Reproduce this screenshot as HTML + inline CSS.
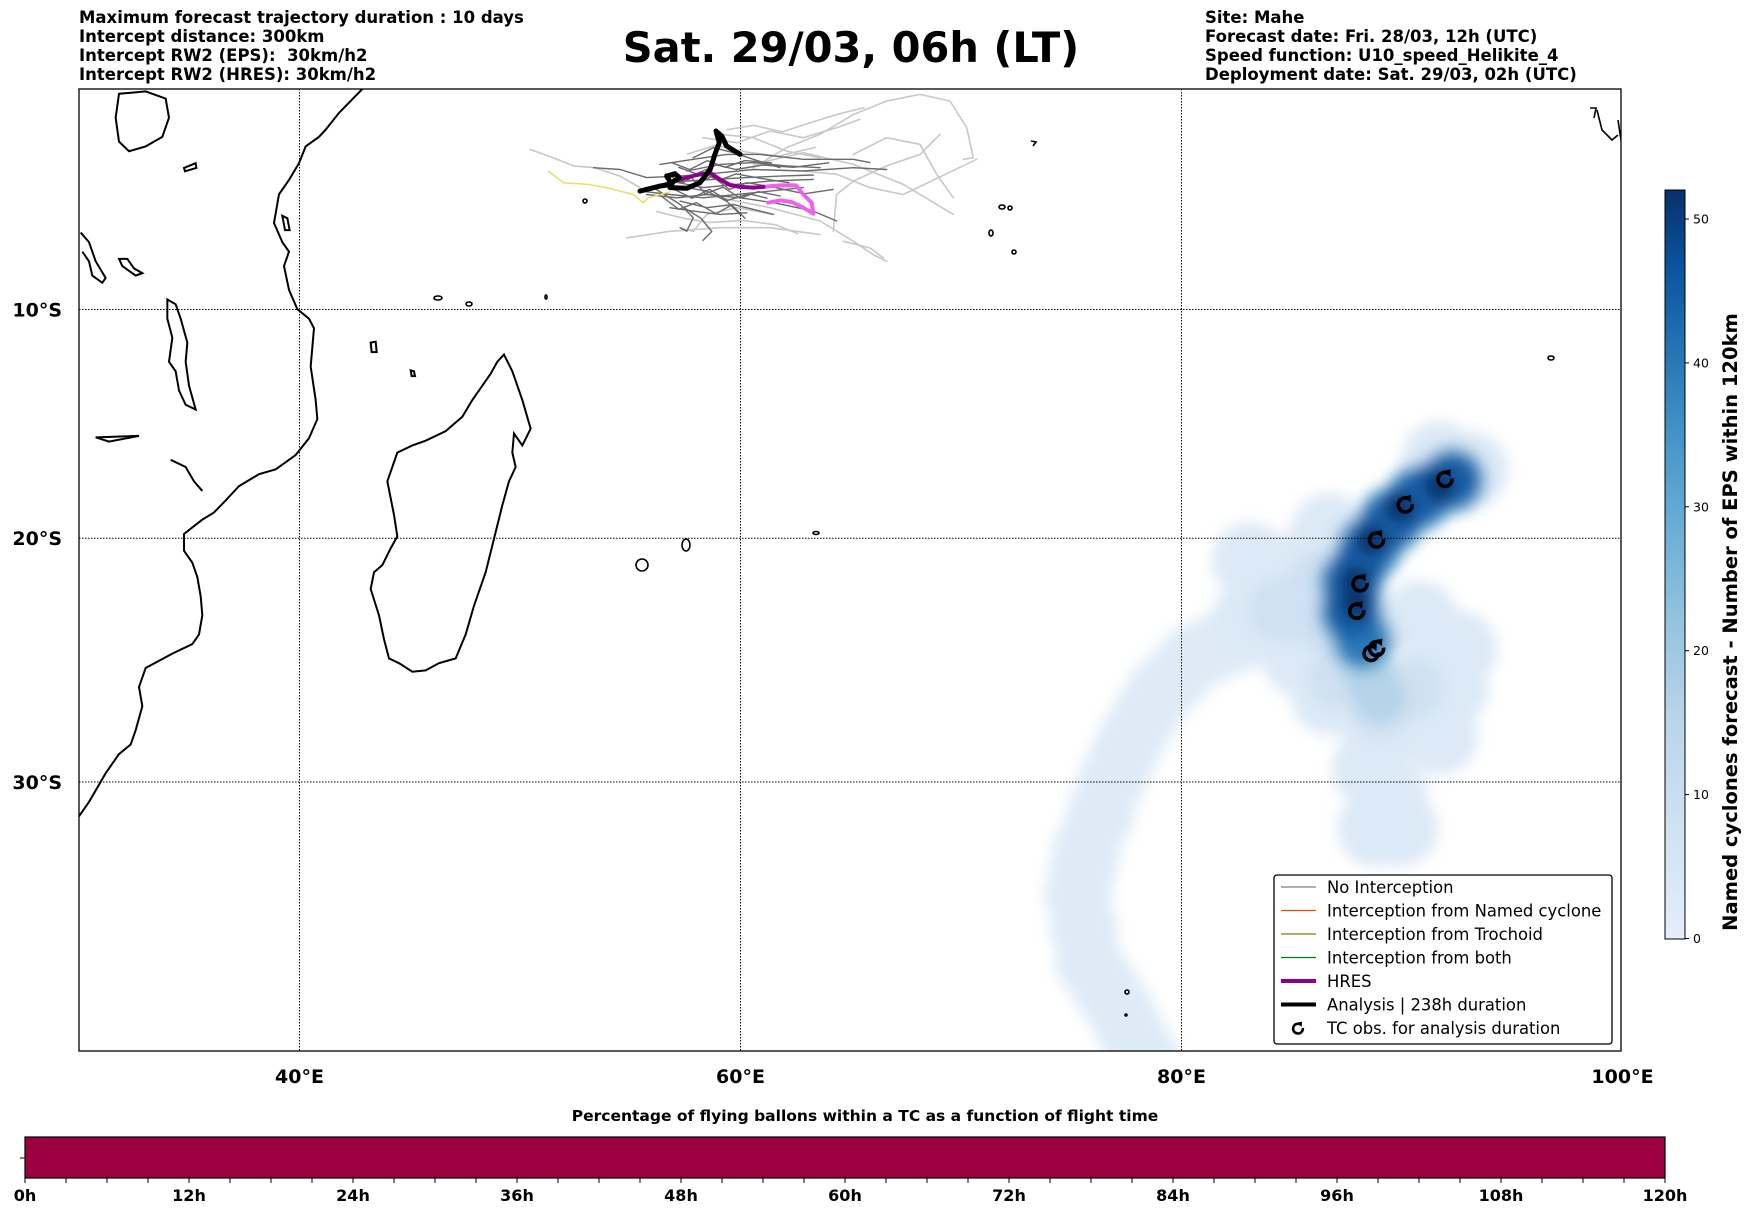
<!DOCTYPE html>
<html><head><meta charset="utf-8"><style>
html,body{margin:0;padding:0;background:#fff;}
svg{display:block;font-family:"DejaVu Sans","Liberation Sans",sans-serif;}
.hdr{font-weight:bold;font-size:16.5px;}
</style></head><body>
<svg id="root" width="1752" height="1213" viewBox="0 0 1752 1213" xmlns="http://www.w3.org/2000/svg">
<defs>
 <filter id="blur1" x="-50%" y="-50%" width="200%" height="200%"><feGaussianBlur stdDeviation="7"/></filter>
 <linearGradient id="blues" x1="0" y1="1" x2="0" y2="0">
  <stop offset="0" stop-color="#e3eef9"/><stop offset="0.15" stop-color="#d0e1f2"/>
  <stop offset="0.3" stop-color="#b7d4ea"/><stop offset="0.42" stop-color="#94c4df"/>
  <stop offset="0.55" stop-color="#6aaed6"/><stop offset="0.68" stop-color="#4292c6"/>
  <stop offset="0.8" stop-color="#2070b4"/><stop offset="0.9" stop-color="#0a539e"/>
  <stop offset="1" stop-color="#08306b"/>
 </linearGradient>
 <clipPath id="mapclip"><rect x="79" y="89" width="1542" height="962"/></clipPath>
</defs>

<g class="hdr">
 <text x="79" y="23">Maximum forecast trajectory duration : 10 days</text>
 <text x="79" y="42">Intercept distance: 300km</text>
 <text x="79" y="61" xml:space="preserve">Intercept RW2 (EPS):  30km/h2</text>
 <text x="79" y="80">Intercept RW2 (HRES): 30km/h2</text>
</g>
<text x="851" y="62" text-anchor="middle" font-weight="bold" font-size="41.5">Sat. 29/03, 06h (LT)</text>
<g class="hdr">
 <text x="1205" y="23">Site: Mahe</text>
 <text x="1205" y="42">Forecast date: Fri. 28/03, 12h (UTC)</text>
 <text x="1205" y="61">Speed function: U10_speed_Helikite_4</text>
 <text x="1205" y="80">Deployment date: Sat. 29/03, 02h (UTC)</text>
</g>

<g id="map" clip-path="url(#mapclip)">
 <g id="density" filter="url(#blur1)"></g>
 <g transform="translate(79,89) scale(0.33333,0.47847)" fill="none" stroke="#000" stroke-width="2">
  <path vector-effect="non-scaling-stroke" d="M850,0 L780,50 L740,85 L720,100 L680,120 L660,155 L630,190 L600,220 L585,280 L610,320 L630,340 L615,370 L630,420 L655,460 L690,480 L705,500 L695,580 L710,650 L715,690 L690,730 L650,765 L590,795 L540,805 L480,830 L440,860 L405,885 L370,900 L315,930 L315,965 L340,990 L355,1020 L365,1060 L370,1100 L360,1140 L340,1160 L280,1180 L200,1210 L180,1250 L190,1290 L170,1340 L155,1370 L120,1390 L80,1430 L30,1490 L0,1520"/>
  <path vector-effect="non-scaling-stroke" d="M1275,555 L1300,590 L1330,650 L1355,710 L1330,745 L1305,720 L1300,760 L1310,790 L1290,820 L1270,870 L1245,940 L1220,1010 L1185,1080 L1160,1140 L1130,1190 L1080,1200 L1040,1215 L1000,1218 L960,1200 L930,1190 L915,1150 L900,1100 L875,1045 L885,1010 L910,995 L935,960 L955,935 L945,890 L925,820 L940,790 L955,760 L1000,745 L1040,735 L1100,715 L1150,685 L1180,650 L1210,620 L1235,595 L1255,570 Z"/>
  <path vector-effect="non-scaling-stroke" d="M265,440 L290,450 L305,480 L325,530 L320,570 L330,620 L350,670 L320,660 L300,630 L290,590 L270,570 L280,520 L265,480 Z"/>
  <path vector-effect="non-scaling-stroke" d="M5,300 L30,320 L50,360 L80,395 L70,405 L40,390 L30,360 L10,340"/>
  <path vector-effect="non-scaling-stroke" d="M120,10 L200,5 L260,20 L270,60 L250,100 L200,120 L150,130 L120,110 L110,60 Z"/>
  <path vector-effect="non-scaling-stroke" d="M120,355 L145,355 L165,375 L190,385 L170,390 L130,370 Z"/>
  <path vector-effect="non-scaling-stroke" d="M50,728 L180,725 L90,737 Z"/>
  <path vector-effect="non-scaling-stroke" d="M275,775 L320,790 L345,820 L370,840"/>
  <path vector-effect="non-scaling-stroke" d="M875,530 L890,528 L893,550 L878,550 Z"/>
  <path vector-effect="non-scaling-stroke" d="M995,588 L1005,590 L1008,600 L998,600 Z"/>
  <path vector-effect="non-scaling-stroke" d="M610,265 L625,270 L632,295 L618,295 Z"/>
  <path vector-effect="non-scaling-stroke" d="M315,165 L350,155 L352,165 L318,172 Z"/>
 </g>
 <g fill="none" stroke="#000" stroke-width="1.6">
  <ellipse cx="642" cy="565" rx="6" ry="6"/>
  <ellipse cx="686" cy="545" rx="4" ry="6"/>
  <ellipse cx="816" cy="533" rx="3" ry="1.5"/>
  <ellipse cx="1002" cy="207" rx="3" ry="2"/>
  <ellipse cx="1010" cy="208" rx="2" ry="2"/>
  <ellipse cx="991" cy="233" rx="2" ry="3"/>
  <ellipse cx="1014" cy="252" rx="2" ry="2"/>
  <ellipse cx="1551" cy="358" rx="3" ry="2"/>
  <ellipse cx="1127" cy="992" rx="2" ry="2"/>
  <ellipse cx="1126" cy="1015" rx="1" ry="1"/>
  <path d="M1590,108 L1596,108 L1594,118 M1597,110 L1602,130 L1612,140 L1618,135 M1618,120 L1621,140"/>
  <path d="M1031,141 L1036,142 L1033,146"/>
  <ellipse cx="585" cy="201" rx="2" ry="2"/>
  <ellipse cx="438" cy="298" rx="4" ry="2"/>
  <ellipse cx="469" cy="304" rx="3" ry="2"/>
  <ellipse cx="546" cy="297" rx="1" ry="2"/>
 </g>
 <g id="gridlines" stroke="#000" stroke-width="1" stroke-dasharray="1.5,1.5"></g>
 <g id="traj" fill="none" stroke-linejoin="round" stroke-linecap="round"></g>
 <g id="tcobs"></g>
</g>
<rect x="79" y="89" width="1542" height="962" fill="none" stroke="#000" stroke-width="1.3"/>
<g id="axislabels" font-weight="bold" font-size="19"></g>

<g>
 <rect x="1274" y="875" width="338" height="169" rx="3" fill="#fff" stroke="#000" stroke-width="1.3"/>
 <g font-size="16.4" id="legend"></g>
</g>

<g id="cbar">
 <rect x="1665" y="190" width="20" height="749" fill="url(#blues)" stroke="#000" stroke-width="1"/>
 <text transform="translate(1737,622) rotate(-90)" text-anchor="middle" font-weight="bold" font-size="19.5">Named cyclones forecast - Number of EPS within 120km</text>
</g>

<g id="tbar">
 <text x="865" y="1121" text-anchor="middle" font-weight="bold" font-size="15.5">Percentage of flying ballons within a TC as a function of flight time</text>
 <rect x="25" y="1137" width="1640" height="41" fill="#9c0040" stroke="#000" stroke-width="1.2"/>
 <line x1="20" y1="1158" x2="25" y2="1158" stroke="#000"/>
</g>
</svg>
<script>
// ---- chart data ----
const lonTicks = [40, 60, 80, 100];
const latTicks = [-10, -20, -30];
const lonTickLabels = ["40°E", "60°E", "80°E", "100°E"];
const latTickLabels = ["10°S", "20°S", "30°S"];
const cbarTicks = [0, 10, 20, 30, 40, 50];
const hourTicks = [0, 12, 24, 36, 48, 60, 72, 84, 96, 108, 120];
const hourLabels = ["0h","12h","24h","36h","48h","60h","72h","84h","96h","108h","120h"];
const tcObsLon = [91.95, 90.15, 88.85, 88.1, 87.95, 88.6, 88.85];
const tcObsLat = [-17.5, -18.6, -20.1, -21.95, -23.1, -24.85, -24.65];
const analysisLon = [55.44,56.35,56.88,56.65,57.03,57.23,56.95,56.80,57.56,58.16,58.62,58.84,59.04,58.89,59.15,59.37,59.98];
const analysisLat = [-4.68,-4.45,-4.37,-4.00,-3.89,-4.07,-4.25,-4.52,-4.55,-4.30,-3.70,-3.02,-2.49,-1.96,-2.19,-2.64,-3.02];
const hresLon = [55.44,56.35,57.26,58.01,58.62,59.07,59.52,59.98,60.58,61.04];
const hresLat = [-4.68,-4.45,-4.15,-3.95,-3.85,-4.15,-4.40,-4.49,-4.52,-4.49];
const hresEndLon = [61.04,61.79,62.52,62.85,63.23,63.30,62.85,62.32,61.79,61.26];
const hresEndLat = [-4.49,-4.42,-4.42,-4.83,-5.20,-5.70,-5.43,-5.17,-5.10,-5.20];
const trochoidLon = [51.28,51.97,53.02,53.93,55.14,55.59,55.82,56.80];
const trochoidLat = [-3.77,-4.30,-4.37,-4.52,-4.83,-5.20,-4.98,-4.71];
const epsLightTracks = [
 [[50.45,-2.79],[51.51,-3.17],[52.42,-3.54],[53.40,-3.62],[54.54,-4.00],[55.44,-4.52]],
 [[60.58,-3.62],[62.09,-2.71],[63.61,-2.11],[65.12,-1.21],[66.63,-0.60],[68.14,-0.30],[69.50,-0.60],[70.26,-1.81],[70.56,-3.17],[70.11,-3.24]],
 [[59.07,-4.98],[61.34,-5.43],[63.61,-6.03],[65.12,-6.94],[66.02,-7.54],[66.63,-7.84]],
 [[54.84,-6.79],[56.80,-6.49],[59.07,-6.33],[61.34,-6.33],[63.61,-6.64]],
 [[60.58,-3.47],[62.85,-2.94],[65.12,-3.47],[67.38,-4.37],[69.65,-5.73]],
 [[58.31,-2.26],[59.83,-2.49],[61.34,-1.96],[62.85,-2.26],[64.36,-1.81],[65.42,-1.43]],
 [[69.05,-2.11],[68.14,-3.02],[66.63,-3.54],[65.12,-4.22],[64.36,-4.83],[64.21,-6.49]],
 [[57.26,-6.33],[57.86,-6.49],[58.47,-5.73],[59.83,-5.43],[61.49,-5.73]],
 [[62.85,-3.77],[64.36,-3.92],[65.87,-4.52],[67.38,-4.83],[70.71,-3.24]],
 [[64.66,-6.94],[65.87,-7.24],[66.48,-7.69]],
 [[59.07,-2.11],[60.58,-2.26],[62.09,-2.87],[63.61,-3.17]],
 [[65.12,-3.02],[66.63,-2.26],[68.14,-2.56],[68.90,-3.92],[69.65,-4.98]],
 [[56.2,-5.6],[57.4,-5.9],[58.6,-6.1],[60.1,-6.0],[61.6,-6.2],[62.6,-6.6]],
 [[59.4,-1.9],[60.6,-1.7],[61.9,-2.0],[63.1,-1.6],[64.4,-1.2],[65.6,-0.9]],
 [[57.6,-3.0],[58.9,-2.6],[60.2,-2.9],[61.7,-3.1],[63.4,-2.7]]
];
const epsDarkTracks = [
 [[53.33,-3.62],[54.54,-3.70],[55.74,-4.07],[57.26,-4.00],[59.07,-3.85],[60.58,-3.70],[62.85,-3.77],[65.12,-3.62],[66.63,-3.70]],
 [[55.44,-4.68],[56.80,-4.83],[58.31,-4.98],[59.83,-4.83],[61.34,-4.68],[62.85,-4.52]],
 [[56.35,-3.47],[57.86,-3.24],[59.37,-3.02],[60.88,-3.02],[62.85,-3.24],[65.12,-3.24],[65.87,-3.39]],
 [[56.05,-4.52],[57.26,-5.28],[57.86,-5.88],[57.56,-6.49],[57.26,-6.33]],
 [[56.80,-4.22],[58.31,-4.52],[59.83,-4.37],[61.34,-4.22],[63.30,-4.15]],
 [[57.56,-3.77],[59.07,-3.47],[60.58,-3.39],[62.09,-3.54],[63.61,-3.62]],
 [[57.26,-5.13],[58.47,-5.43],[59.68,-5.28],[60.88,-5.58],[61.49,-5.73]],
 [[55.74,-4.83],[57.11,-4.98],[58.47,-4.83],[59.98,-4.98],[61.49,-5.20],[63.30,-5.58],[64.36,-6.03]],
 [[57.86,-3.17],[58.77,-2.71],[59.68,-2.94],[60.58,-3.24],[61.79,-3.62]],
 [[56.35,-4.37],[57.56,-4.22],[58.77,-4.15],[60.28,-4.07],[61.79,-4.00],[63.30,-3.95]],
 [[56.80,-5.43],[57.86,-5.58],[59.07,-5.73],[60.28,-5.66]],
 [[57.56,-4.52],[58.47,-4.68],[59.37,-5.13],[59.98,-5.73]],
 [[56.6,-3.9],[57.4,-4.3],[58.2,-3.8],[59.0,-4.2],[59.8,-3.9],[60.9,-4.1],[62.2,-4.3]],
 [[57.0,-4.6],[57.8,-5.0],[58.6,-4.6],[59.4,-5.1],[60.4,-4.8],[61.2,-5.0]],
 [[56.4,-4.9],[57.2,-5.5],[58.0,-5.2],[58.9,-5.7],[59.6,-5.3],[60.2,-5.9]],
 [[57.2,-3.6],[58.0,-3.9],[58.9,-3.5],[59.8,-3.7],[61.0,-3.5],[62.4,-3.6],[64.0,-3.4]],
 [[57.8,-4.1],[58.4,-4.8],[59.2,-4.5],[60.0,-5.0],[60.8,-4.7],[61.8,-4.9]],
 [[56.9,-3.4],[57.7,-3.7],[58.5,-3.3],[59.3,-3.6],[60.2,-3.3],[61.4,-3.4]],
 [[57.4,-5.4],[58.2,-5.9],[58.7,-6.5],[58.3,-6.9]],
 [[58.0,-4.4],[58.7,-4.0],[59.5,-4.6],[60.3,-4.3],[61.5,-4.5],[62.9,-4.8],[64.2,-4.6]]
];
// density field samples: lon, lat, count
const densityLon = [78.6,78.1,77.6,77.1,76.45,75.8,75.55,75.3,75.5,75.7,76.3,76.8,77.3,77.8,78.4,79.0,79.8,80.5,81.3,82.15,83.2,84.2,
 83.1,83.1,84.9,85.4,86.7,89.0,91.7,92.2,92.6,90.8,86.7,88.55,89.45,88.8,89.9,93.1,91.7,
 84.5,86.3,87.2,89.0,90.4,86.3,
 88.55,89.0,88.3,
 92.3,90.8,89.5,88.5,87.7,87.7,88.2,
 92.3,91.5,90.8,90.1,89.5,89.0,88.5,88.1,87.7,87.7,87.7,88.2,
 91.7,89.9,88.6,87.9,87.9];
const densityLat = [-40.6,-39.9,-39.15,-38.4,-37.6,-36.8,-35.55,-34.3,-33.45,-32.6,-31.3,-30.0,-29.1,-28.2,-27.3,-26.45,-25.75,-25.05,-24.7,-24.35,-24.0,-23.7,
 -20.95,-23.4,-21.4,-25.05,-26.6,-28.2,-28.2,-26.25,-24.65,-23.4,-19.7,-29.45,-30.6,-31.8,-31.8,-17.05,-16.6,
 -23.0,-23.4,-25.85,-27.0,-26.25,-21.8,
 -25.85,-26.6,-25.05,
 -17.5,-18.25,-19.25,-20.4,-21.85,-23.15,-24.3,
 -17.5,-17.85,-18.25,-18.75,-19.25,-19.8,-20.4,-21.1,-21.85,-22.5,-23.15,-24.3,
 -17.75,-18.7,-20.1,-21.8,-22.8];
const densityCount = [2,2,2,2,2,2,2,2,2,2,2,2,2,2,2,2,2,2,2,2,2,2,
 3,3,3,3,3,3,3,3,3,3,3,3,3,3,3,3,3,
 8,8,8,8,8,8,
 16,16,16,
 30,30,30,30,30,30,24,
 45,45,45,45,45,45,45,45,45,45,45,40,
 52,52,52,52,52];

// ---- projection ----
const X0 = 79, PXDEG = 22.05, Y10 = 309.5, K = 1263.8;
const merc = lat => Math.log(Math.tan(Math.PI/4 + lat*Math.PI/360));
const lonX = lon => X0 + (lon - 30) * PXDEG;
const latY = lat => Y10 - K * (merc(lat) - merc(-10));
const NS = "http://www.w3.org/2000/svg";
function mk(tag, attrs, parent){ const e=document.createElementNS(NS,tag); for(const k in attrs) e.setAttribute(k,attrs[k]); parent.appendChild(e); return e; }
const stops=[[0,[227,238,249]],[0.15,[208,225,242]],[0.3,[183,212,234]],[0.42,[148,196,223]],[0.55,[106,174,214]],[0.68,[66,146,198]],[0.8,[32,112,180]],[0.9,[10,83,158]],[1,[8,48,107]]];
function cmap(v){ const t=Math.max(0,Math.min(1,v/52)); for(let i=1;i<stops.length;i++){ if(t<=stops[i][0]){ const a=stops[i-1],b=stops[i],f=(t-a[0])/(b[0]-a[0]); return 'rgb('+a[1].map((c,j)=>Math.round(c+(b[1][j]-c)*f)).join(',')+')'; } } return 'rgb(8,48,107)'; }

// density
const dens = document.getElementById('density');
const order = densityCount.map((c,i)=>i).sort((a,b)=>densityCount[a]-densityCount[b]);
order.forEach(i=>{
  const c = densityCount[i];
  const r = c<=2?34: c<=3?38: c<=8?32: c<=16?26: c<=30?34: c<=45?26:15;
  const el = mk('circle',{cx:lonX(densityLon[i]).toFixed(1),cy:latY(densityLat[i]).toFixed(1),r:r,fill:cmap(c)},dens);
  
  
});

// gridlines
const grid = document.getElementById('gridlines');
lonTicks.slice(0,3).forEach(l=>{ const e=mk('line',{x1:lonX(l),x2:lonX(l),y1:89,y2:1051},grid);
  
   });
latTicks.forEach(l=>{ const e=mk('line',{x1:79,x2:1621,y1:latY(l),y2:latY(l)},grid);
  
   });

// axis labels
const ax = document.getElementById('axislabels');
lonTicks.forEach((l,i)=>{ const e=mk('text',{x:lonX(l),y:1083,'text-anchor':'middle'},ax); e.textContent=lonTickLabels[i];
  
   });
latTicks.forEach((l,i)=>{ const e=mk('text',{x:62,y:latY(l)+7,'text-anchor':'end'},ax); e.textContent=latTickLabels[i];
  
   });

// trajectories
const tr = document.getElementById('traj');
const pts = (lons,lats)=>lons.map((l,i)=>lonX(l).toFixed(1)+','+latY(lats[i]).toFixed(1)).join(' ');
const ptsPairs = arr=>arr.map(p=>lonX(p[0]).toFixed(1)+','+latY(p[1]).toFixed(1)).join(' ');
epsLightTracks.forEach(t=>{ const e=mk('polyline',{points:ptsPairs(t),stroke:'#c8c8c8','stroke-width':1.6},tr);
  
   });
epsDarkTracks.forEach(t=>{ const e=mk('polyline',{points:ptsPairs(t),stroke:'#6a6a6a','stroke-width':1.4},tr);
  
   });
let e1 = mk('polyline',{points:pts(trochoidLon,trochoidLat),stroke:'#e8e060','stroke-width':1.5},tr);


let e2 = mk('polyline',{points:pts(hresEndLon,hresEndLat),stroke:'#f060f0','stroke-width':4},tr);


let e3 = mk('polyline',{points:pts(hresLon,hresLat),stroke:'#900090','stroke-width':4},tr);


let e4 = mk('polyline',{points:pts(analysisLon,analysisLat),stroke:'#000','stroke-width':5},tr);



// TC obs markers (drawn cyclone symbol)
const tcPath = 'M5.5,-5 A7,7 0 1,0 7,1';
function tcSymbol(parent, x, y, s){
  const g = mk('g',{transform:'translate('+x.toFixed(1)+','+y.toFixed(1)+') rotate(-20) scale('+s+')'},parent);
  mk('path',{d:tcPath,fill:'none',stroke:'#000','stroke-width':3.6},g);
  mk('path',{d:'M1,-9 L9,-8 L6,-1 Z',fill:'#000'},g);
  return g;
}
const tc = document.getElementById('tcobs');
tcObsLon.forEach((l,i)=>{
  const g = tcSymbol(tc, lonX(l), latY(tcObsLat[i]), 1);
  
  
});

// legend
const lg = document.getElementById('legend');
const legLabels = ["No Interception","Interception from Named cyclone","Interception from Trochoid","Interception from both","HRES","Analysis | 238h duration","TC obs. for analysis duration"];
const legColors = ["#808080","#ff4500","#808000","#008000","#900090","#000",null];
const legWidths = [1.3,1.3,1.3,1.3,4,4,0];
legLabels.forEach((t,i)=>{
  const y = 887 + i*23.5;
  if(legColors[i]){ const l=mk('line',{x1:1281,x2:1316,y1:y,y2:y,stroke:legColors[i],'stroke-width':legWidths[i]},lg);
    
     }
  else { const s=tcSymbol(lg, 1298, y+1, 0.7);
    
     }
  const e=mk('text',{x:1327,y:y+6},lg); e.textContent=t;
  
  
});

// colorbar ticks
const cb = document.getElementById('cbar');
const cbY = v => 938.5 - v*(938.5-219)/50;
cbarTicks.forEach(v=>{
  const l=mk('line',{x1:1685,x2:1689,y1:cbY(v),y2:cbY(v),stroke:'#000'},cb);
  
  
  const t=mk('text',{x:1693,y:cbY(v)+4.5,'font-size':12.5},cb); t.textContent=v;
  
  
});

// flight time bar ticks
const tb = document.getElementById('tbar');
const hX = h => 25 + h*1640/120;
for(let h=0; h<=120; h+=3){
  const l=mk('line',{x1:hX(h),x2:hX(h),y1:1178,y2:1183,stroke:'#000'},tb);
  
  
}
hourTicks.forEach((h,i)=>{
  const t=mk('text',{x:hX(h),y:1201,'text-anchor':'middle','font-size':16,'font-weight':'bold'},tb); t.textContent=hourLabels[i];
  
  
});
</script>
</body></html>
